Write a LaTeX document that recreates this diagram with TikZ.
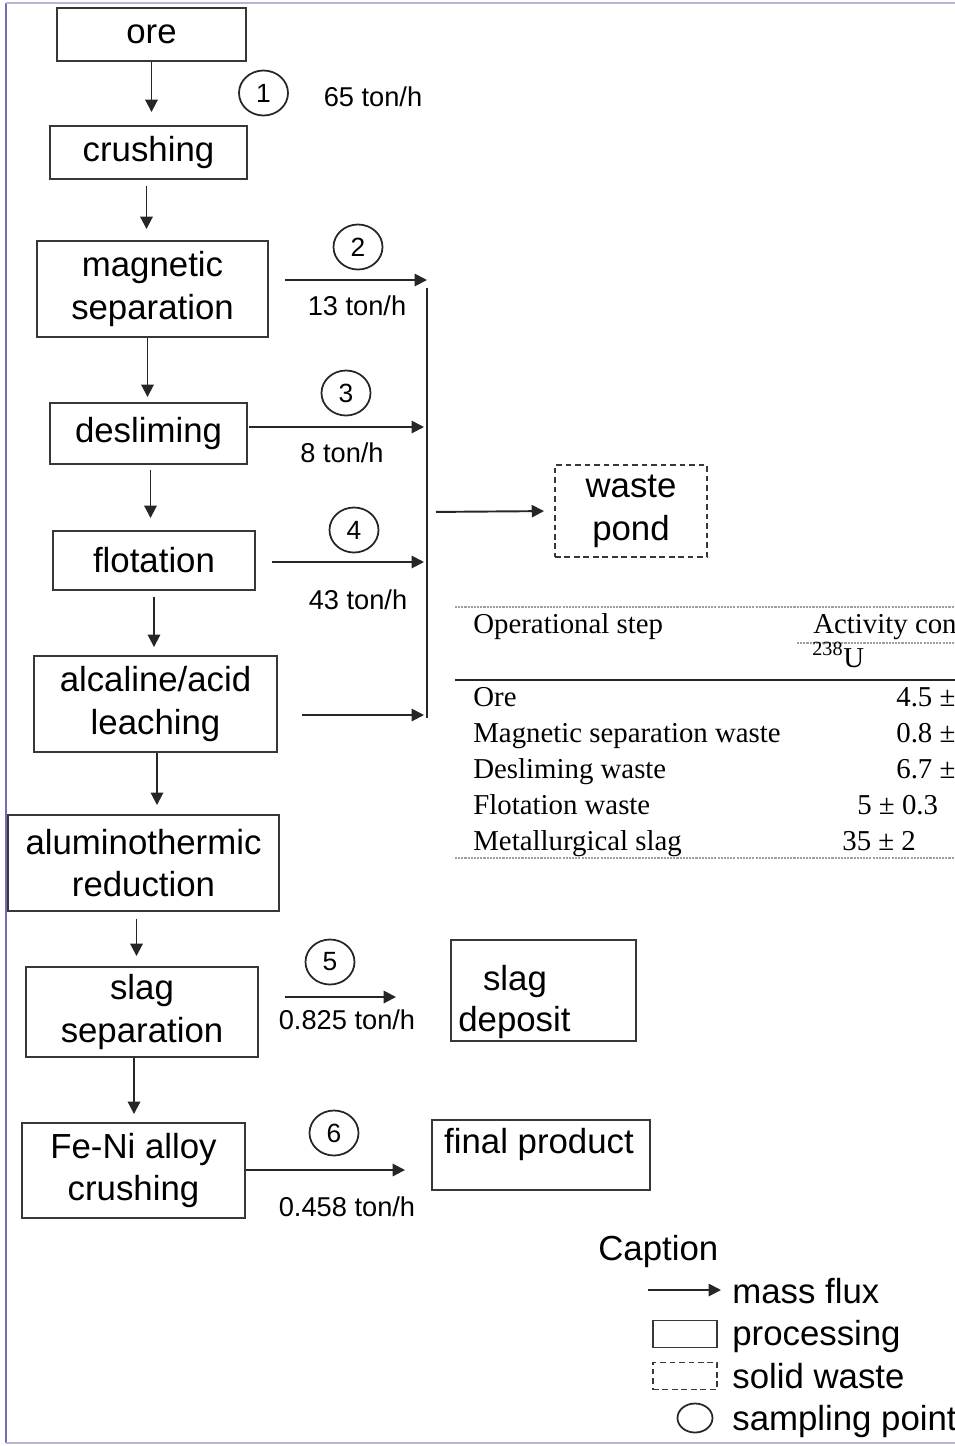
\documentclass[tikz,border=0pt]{standalone}
\usepackage{fontspec}
\setmainfont{Liberation Sans}
\newfontfamily\tabfont{Liberation Serif}
\usetikzlibrary{arrows.meta,calc,shapes.geometric}
\newcommand{\pxu}{0.2mm}
\newcommand{\boxfont}{\fontsize{19.8}{24.4}\selectfont}
\newcommand{\lblfont}{\fontsize{15.5}{18}\selectfont}
\newcommand{\numfont}{\fontsize{15}{18}\selectfont}
\newcommand{\tabsize}{\tabfont\fontsize{16.4}{20}\selectfont}
\definecolor{frameL}{RGB}{112,108,190}
\definecolor{frameT}{RGB}{186,180,214}
\definecolor{boxline}{RGB}{55,55,55}
\begin{document}
\begin{tikzpicture}[x=0.2mm,y=-0.2mm,
  box/.style={draw=boxline, line width=1.1pt, inner sep=0pt, align=center, font=\boxfont},
  wastebox/.style={box, dash pattern=on 3.2pt off 2.2pt},
  flux/.style={draw=black!85, line width=1.1pt, -{Triangle[length=7pt,width=7pt]}},
  samp/.style={draw=black!85, ellipse, line width=1pt, minimum width=49*\pxu, minimum height=45*\pxu, inner sep=0pt, font=\numfont},
  lbl/.style={font=\lblfont},
  tab/.style={font=\tabsize, anchor=base west, inner sep=0pt},
  leg/.style={font=\boxfont, anchor=base west, inner sep=0pt}]
\useasboundingbox (0,0) rectangle (955,1446);
\clip (0,0) rectangle (955,1446);
% frame
\draw[frameL, line width=1pt] (6,3) -- (6,1443);
\draw[frameT, line width=1pt] (6,3) -- (960,3);
\draw[frameT, line width=1pt] (6,1443) -- (960,1443);

% process column
\node[box, minimum width=189*\pxu, minimum height=53*\pxu] (ore) at (151.5,34.5) {ore};
\node[box, minimum width=197*\pxu, minimum height=53*\pxu] (crush) at (148.5,152.5) {crushing};
\node[box, minimum width=231*\pxu, minimum height=96*\pxu] (magsep) at (152.5,289) {magnetic\\separation};
\node[box, minimum width=197*\pxu, minimum height=61*\pxu] (desl) at (148.5,433.5) {desliming};
\node[box, minimum width=202*\pxu, minimum height=59*\pxu] (flot) at (154,560.5) {flotation};
\node[box, minimum width=243*\pxu, minimum height=96*\pxu] (leach) at (155.5,704) {alcaline/acid\\leaching};
\node[box, minimum width=271*\pxu, minimum height=96*\pxu] (alum) at (143.5,863) {aluminothermic\\reduction};
\node[box, minimum width=232*\pxu, minimum height=90*\pxu] (slagsep) at (142,1012) {slag\\separation};
\node[box, minimum width=223*\pxu, minimum height=95*\pxu] (feni) at (133.5,1170.5) {Fe-Ni alloy\\crushing};

% vertical flux arrows
\draw[flux, shorten >=13*\pxu] (ore.south) -- (ore.south |- crush.north);
\draw[flux, shorten <=6*\pxu, shorten >=11*\pxu] ($(crush.south)+(-2,0)$) -- ($(crush.south |- magsep.north)+(-2,0)$);
\draw[flux, shorten >=5*\pxu] ($(magsep.south)+(-5,0)$) -- ($(magsep.south |- desl.north)+(-5,0)$);
\draw[flux, shorten <=5*\pxu, shorten >=12*\pxu] ($(desl.south)+(2,0)$) -- ($(desl.south |- flot.north)+(2,0)$);
\draw[flux, shorten <=6*\pxu, shorten >=8*\pxu] (flot.south) -- (flot.south |- leach.north);
\draw[flux, shorten >=9*\pxu] ($(leach.south)+(1.5,0)$) -- ($(leach.south |- alum.north)+(1.5,0)$);
\draw[flux, shorten <=7*\pxu, shorten >=10*\pxu] ($(alum.south)+(-7,0)$) -- ($(alum.south |- slagsep.north)+(-7,0)$);
\draw[flux, shorten >=8*\pxu] ($(slagsep.south)+(-8,0)$) -- ($(slagsep.south |- feni.north)+(-8,0)$);

% sampling point 1
\node[samp] (s1) at (263.5,93) {1};
\node[lbl] (f1) at (373,97) {65 ton/h};

% waste collector
\coordinate (ctop) at (427,288);
\coordinate (cbot) at (427,718);
\coordinate (c2) at (427,280);
\coordinate (c3) at (424,427);
\coordinate (c4) at (424,562);
\coordinate (c5) at (424,715);
\coordinate (cmid) at (427,512);
\draw[draw=black!85, line width=1.1pt] (ctop) -- (cbot);

\draw[flux, shorten <=16*\pxu] (magsep.east |- c2) -- (c2);
\node[samp] (s2) at (358,247) {2};
\node[lbl] (f2) at (357,306) {13 ton/h};

\draw[flux, shorten <=1*\pxu] (desl.east |- c3) -- (c3);
\node[samp] (s3) at (346,393) {3};
\node[lbl] (f3) at (342,453) {8 ton/h};

\draw[flux, shorten <=16*\pxu] (flot.east |- c4) -- (c4);
\node[samp] (s4) at (354,530) {4};
\node[lbl] (f4) at (358,600) {43 ton/h};

\draw[flux, shorten <=24*\pxu] (leach.east |- c5) -- (c5);

\node[wastebox, minimum width=152*\pxu, minimum height=92*\pxu] (pond) at (631,511) {waste\\pond};
\draw[flux, shorten <=9*\pxu, shorten >=10*\pxu] (cmid) -- (pond.west);

% slag deposit
\node[box, minimum width=185*\pxu, minimum height=101*\pxu] (slagdep) at (543.5,990.5) {};
\node[font=\boxfont, anchor=base] (slagt) at (515,990) {slag};
\node[font=\boxfont, anchor=base west, inner sep=0pt] (dept) at (458,1031) {deposit};
\draw[flux, shorten <=26*\pxu, shorten >=54*\pxu] (slagsep.east |- 0,997) -- (slagdep.west |- 0,997);
\node[samp] (s5) at (330,962) {5};
\node[lbl] (f5) at (347,1020) {0.825 ton/h};

% final product
\node[box, minimum width=218*\pxu, minimum height=70*\pxu] (final) at (541,1155) {};
\node[font=\boxfont, anchor=base] (finalt) at (539,1153) {final product};
\draw[flux, shorten >=26*\pxu] (feni.east |- 0,1170) -- (final.west |- 0,1170);
\node[samp] (s6) at (334,1133) {6};
\node[lbl] (f6) at (347,1207) {0.458 ton/h};

% table
\draw[gray!75, line width=0.9pt, dash pattern=on 1.2pt off 0.6pt] (455,607) -- (960,607);
\node[tab] (th1) at (473,633) {Operational step};
\node[tab] (th2) at (813,633) {Activity con};
\draw[gray!75, line width=0.8pt, dash pattern=on 1.2pt off 0.6pt] (797,643) -- (960,643);
\node[tab] (th3) at (812,667) {\textsuperscript{238}U};
\draw[black!85, line width=1.6pt] (455,680) -- (960,680);
\node[tab] (r1) at (473,706) {Ore};
\node[tab] (r2) at (473,742) {Magnetic separation waste};
\node[tab] (r3) at (473,778) {Desliming waste};
\node[tab] (r4) at (473,814) {Flotation waste};
\node[tab] (r5) at (473,850) {Metallurgical slag};
\node[tab] (v1) at (896,706) {4.5 ±};
\node[tab] (v2) at (896,742) {0.8 ±};
\node[tab] (v3) at (896,778) {6.7 ±};
\node[tab] (v4) at (857,814) {5 ± 0.3};
\node[tab] (v5) at (842,850) {35 ± 2};
\draw[gray!75, line width=0.9pt, dash pattern=on 1.2pt off 0.6pt] (455,858) -- (960,858);

% caption / legend
\node[leg] (cap) at (598,1260) {Caption};
\coordinate (lgA) at (648,1290);
\coordinate (lgB) at (721,1290);
\draw[flux] (lgA) -- (lgB);
\node[leg] (lg1) at (732,1303) {mass flux};
\node[box, minimum width=64*\pxu, minimum height=27*\pxu] (lgbox) at (685,1334) {};
\node[leg] (lg2) at (732,1345) {processing};
\node[wastebox, minimum width=64*\pxu, minimum height=27*\pxu] (lgwaste) at (685,1376) {};
\node[leg] (lg3) at (732,1388) {solid waste};
\node[samp, minimum width=35*\pxu, minimum height=29*\pxu] (lgcirc) at (695,1418) {};
\node[leg] (lg4) at (732,1430) {sampling point};
\end{tikzpicture}
\end{document}
